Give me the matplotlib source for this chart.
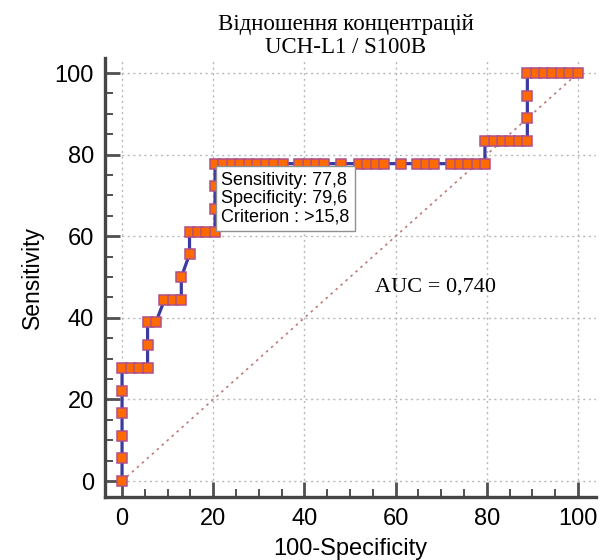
import matplotlib
matplotlib.use("Agg")
import matplotlib.pyplot as plt
from matplotlib.ticker import MultipleLocator

# ROC points (100-Specificity, Sensitivity)
fpr = [0, 0, 0, 0, 0, 0,
       1.9, 3.7, 5.6,
       5.6, 5.6,
       7.4,
       9.3, 11.1, 13.0,
       13.0,
       14.8, 14.8,
       16.7, 18.5, 20.4,
       20.4, 20.4, 20.4,
       22.2, 24.1, 25.9, 27.8, 29.6, 31.5, 33.3, 35.2,
       38.9, 40.7, 42.6, 44.4,
       48.1,
       51.9, 53.7, 55.6, 57.4,
       61.1,
       64.8, 66.7, 68.5,
       72.2, 74.1, 75.9, 77.8, 79.6,
       79.6, 81.5, 83.3, 85.2, 87.0, 88.9,
       88.9, 88.9, 88.9,
       90.7, 92.6, 94.4, 96.3, 98.1, 100]
sens = [0, 5.6, 11.1, 16.7, 22.2, 27.8,
        27.8, 27.8, 27.8,
        33.3, 38.9,
        38.9,
        44.4, 44.4, 44.4,
        50.0,
        55.6, 61.1,
        61.1, 61.1, 61.1,
        66.7, 72.2, 77.8,
        77.8, 77.8, 77.8, 77.8, 77.8, 77.8, 77.8, 77.8,
        77.8, 77.8, 77.8, 77.8,
        77.8,
        77.8, 77.8, 77.8, 77.8,
        77.8,
        77.8, 77.8, 77.8,
        77.8, 77.8, 77.8, 77.8, 77.8,
        83.3, 83.3, 83.3, 83.3, 83.3, 83.3,
        88.9, 94.4, 100,
        100, 100, 100, 100, 100, 100]

title = "Відношення концентрацій\nUCH-L1 / S100B"
info = "Sensitivity: 77,8\nSpecificity: 79,6\nCriterion : >15,8"
auc_text = "AUC = 0,740"
ticks = [0, 20, 40, 60, 80, 100]

plt.rcParams['font.family'] = ['Liberation Sans', 'DejaVu Sans']

fig = plt.figure(figsize=(6.01, 5.60), dpi=100)
ax = fig.add_axes([0.175, 0.1125, 0.817, 0.784])

ax.plot([0, 100], [0, 100], color='#c07878', linestyle=(0, (1.5, 2.5)), linewidth=1.2, zorder=2)
ax.plot(fpr, sens, color='#3a3aa0', linewidth=2.3, marker='s', markersize=7.0,
        markerfacecolor='#ff6a00', markeredgecolor='#b0508a', markeredgewidth=1.1,
        zorder=3, clip_on=False)

ax.set_xlim(-3.7, 104)
ax.set_ylim(-3.9, 103.7)
ax.set_xticks(ticks)
ax.set_yticks(ticks)
ax.xaxis.set_minor_locator(MultipleLocator(5))
ax.yaxis.set_minor_locator(MultipleLocator(5))
ax.grid(True, which='major', color='#b8b8b8', linestyle=(0, (1.5, 2.5)), linewidth=1.0)
ax.set_axisbelow(True)

for s in ['top', 'right']:
    ax.spines[s].set_visible(False)
for s in ['left', 'bottom']:
    ax.spines[s].set_color('#454545')
    ax.spines[s].set_linewidth(2.4)

ax.tick_params(which='major', direction='in', length=11, width=2.0, color='#505050',
               labelsize=17, pad=8)
ax.tick_params(which='minor', direction='in', length=6, width=1.4, color='#505050')

ax.set_xlabel("100-Specificity", fontsize=17, labelpad=6)
ax.set_ylabel("Sensitivity", fontsize=16.5, labelpad=8)

ax.text(21.8, 75.8, info, fontsize=13, va='top', ha='left', linespacing=1.12, zorder=5,
        bbox=dict(boxstyle='square,pad=0.3', facecolor='white', edgecolor='#909090', linewidth=1.0))

ax.text(55.5, 47.5, auc_text, fontsize=16, family='Liberation Serif', va='center', ha='left')

fig.text(0.575, 0.975, title, fontsize=16.5, family='Liberation Serif', va='top', ha='center',
         linespacing=1.12)

fig.savefig("out.png", dpi=100)
